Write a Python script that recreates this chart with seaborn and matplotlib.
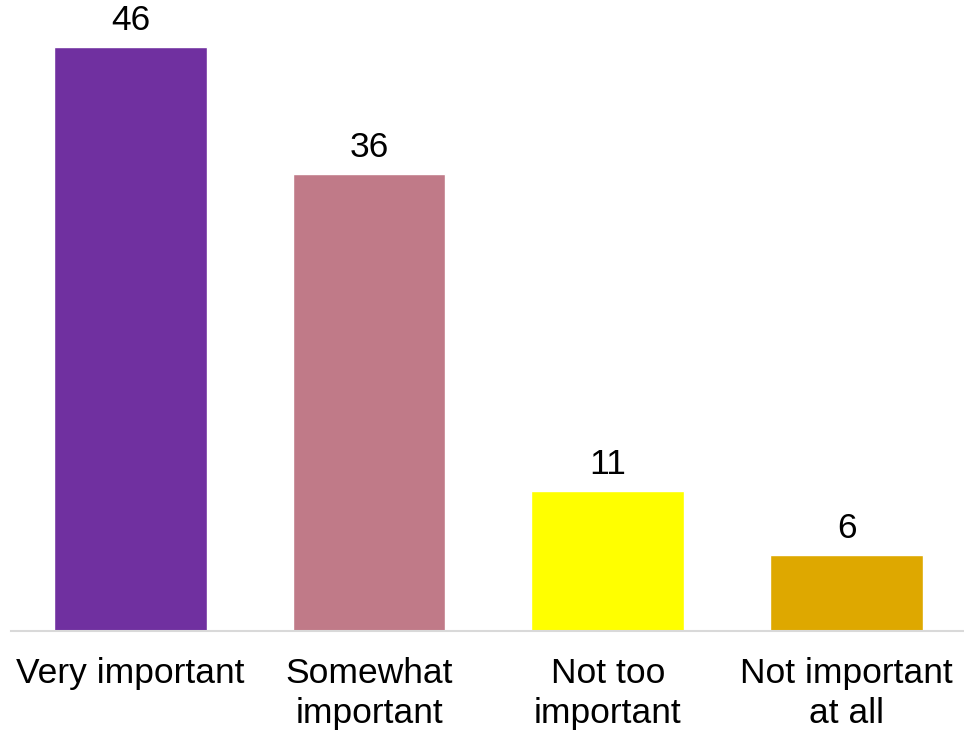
import matplotlib
matplotlib.use("Agg")
import matplotlib.pyplot as plt
import seaborn as sns
import pandas as pd

categories = ["Very important", "Somewhat\nimportant", "Not too\nimportant", "Not important\nat all"]
values = [46, 36, 11, 6]
colors = ["#7030A0", "#C07A88", "#FFFF00", "#DEA800"]

sns.set_style("white")
plt.rcParams['font.family'] = ['Liberation Sans', 'DejaVu Sans']

df = pd.DataFrame({"category": categories, "value": values})

fig = plt.figure(figsize=(9.64, 7.36), dpi=100)
ax = fig.add_axes([0.0114, 0.1427, 0.9906, 0.8573])
sns.barplot(data=df, x="category", y="value", hue="category", palette=colors,
            width=0.64, legend=False, ax=ax, saturation=1)

for i, v in enumerate(values):
    ax.text(i, v + 0.8, str(v), ha="center", va="bottom", fontsize=25.5, color="#000000")

ax.set_xlim(-0.5, 3.5)
ax.set_ylim(0, 49.7)
ax.set_xlabel("")
ax.set_ylabel("")
ax.set_yticks([])
ax.tick_params(axis="x", length=0, labelsize=25.5, pad=19, colors="#000000")
for lab in ax.get_xticklabels():
    lab.set_linespacing(1.25)
for s in ["top", "right", "left"]:
    ax.spines[s].set_visible(False)
ax.spines["bottom"].set_color("#D9D9D9")
ax.spines["bottom"].set_linewidth(1.5)

fig.savefig("out.png", dpi=100)
